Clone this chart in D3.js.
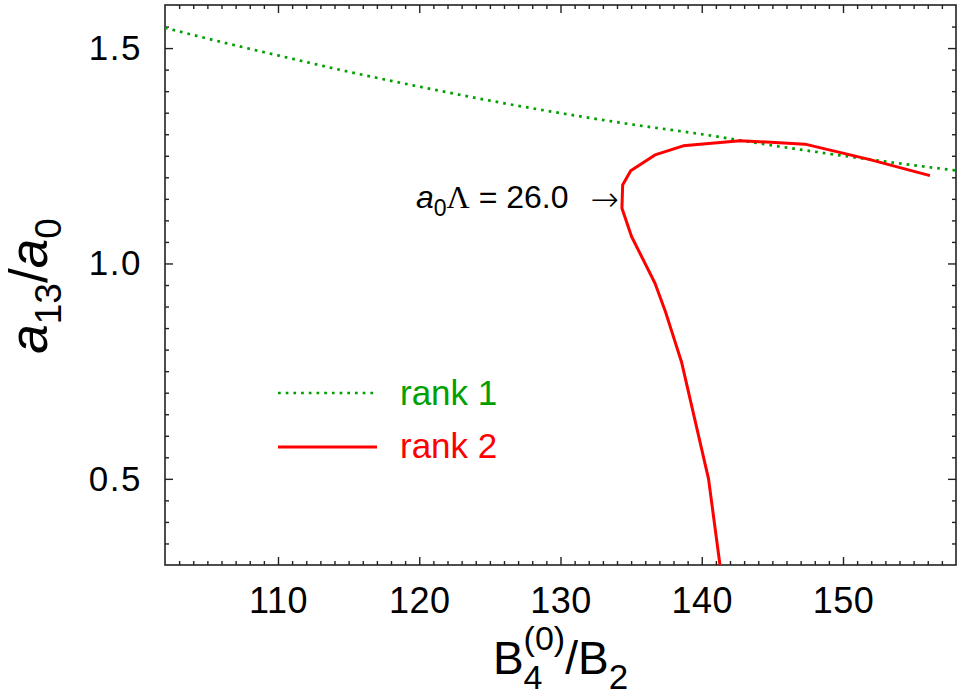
<!DOCTYPE html>
<html><head><meta charset="utf-8">
<script src="https://cdn.jsdelivr.net/npm/d3@7"></script>
<style>body{margin:0;background:#fff} svg{display:block}</style>
</head><body>
<svg id="c" width="963" height="698"></svg>
<script>
// ---- data ----
const rank1X = [102, 106, 110, 115, 120, 125, 130, 135, 140, 145, 150, 155, 158];
const rank1Y = [1.547, 1.514, 1.483, 1.445, 1.4105, 1.378, 1.349, 1.323, 1.300, 1.274, 1.250, 1.228, 1.216];
const rank2X = [156.16, 151.91, 147.31, 142.71, 138.69, 136.69, 134.97, 134.40, 134.35, 135.03, 136.69, 137.40, 138.58, 140.48, 141.29];
const rank2Y = [1.204, 1.241, 1.277, 1.285, 1.273, 1.252, 1.215, 1.182, 1.128, 1.0625, 0.954, 0.891, 0.770, 0.500, 0.300];
const xTicks = [110, 120, 130, 140, 150];
const yTicks = [0.5, 1.0, 1.5];
const xDomain = [102, 158];
const yDomain = [0.3, 1.6];
const legendLabels = ["rank 1", "rank 2"];
const annotationValue = "26.0";

// ---- layout ----
const L = 165, R = 956, T = 5, B = 565;
const FONT = "'Liberation Sans', Arial, Helvetica, sans-serif";
const GREEN = "#00a000", RED = "#ff0000", AX = "#222";

const svg = d3.select("#c");
const x = d3.scaleLinear().domain(xDomain).range([L, R]);
const y = d3.scaleLinear().domain(yDomain).range([B, T]);

svg.append("defs").append("clipPath").attr("id", "clip")
  .append("rect").attr("x", L).attr("y", T).attr("width", R - L).attr("height", B - T);

const xMinor = d3.range(xDomain[0] + 1, xDomain[1], 1).filter(v => !xTicks.includes(v));
const yMinor = d3.range(7, 32).map(i => i * 0.05).filter(v => !yTicks.some(t => Math.abs(t - v) < 1e-9) && v > yDomain[0] + 1e-9);

function styleAxis(g) {
  g.select(".domain").remove();
  g.selectAll(".tick line").attr("stroke", AX).attr("stroke-width", 1.4);
  g.selectAll("text").attr("font-family", FONT).attr("fill", "#000");
}

// bottom
svg.append("g").attr("transform", `translate(0,${B})`)
  .call(d3.axisBottom(x).tickValues(xTicks).tickSize(-8).tickPadding(22.5).tickFormat(d3.format("d")))
  .call(styleAxis).call(g => g.selectAll("text").attr("font-size", 36).attr("letter-spacing", 0.5));
svg.append("g").attr("transform", `translate(0,${B})`)
  .call(d3.axisBottom(x).tickValues(xMinor).tickSize(-4).tickFormat(""))
  .call(styleAxis);
// top
svg.append("g").attr("transform", `translate(0,${T})`)
  .call(d3.axisTop(x).tickValues(xTicks).tickSize(-8).tickFormat("")).call(styleAxis);
svg.append("g").attr("transform", `translate(0,${T})`)
  .call(d3.axisTop(x).tickValues(xMinor).tickSize(-4).tickFormat("")).call(styleAxis);
// left
svg.append("g").attr("transform", `translate(${L},0)`)
  .call(d3.axisLeft(y).tickValues(yTicks).tickSize(-8).tickPadding(23).tickFormat(d3.format(".1f")))
  .call(styleAxis).call(g => g.selectAll("text").attr("font-size", 35).attr("letter-spacing", 1.5));
svg.append("g").attr("transform", `translate(${L},0)`)
  .call(d3.axisLeft(y).tickValues(yMinor).tickSize(-4).tickFormat("")).call(styleAxis);
// right
svg.append("g").attr("transform", `translate(${R},0)`)
  .call(d3.axisRight(y).tickValues(yTicks).tickSize(-8).tickFormat("")).call(styleAxis);
svg.append("g").attr("transform", `translate(${R},0)`)
  .call(d3.axisRight(y).tickValues(yMinor).tickSize(-4).tickFormat("")).call(styleAxis);

// frame
svg.append("rect").attr("x", L).attr("y", T).attr("width", R - L).attr("height", B - T)
  .attr("fill", "none").attr("stroke", AX).attr("stroke-width", 1.6);

// ---- series ----
const r1 = rank1X.map((v, i) => [v, rank1Y[i]]);
const r2 = rank2X.map((v, i) => [v, rank2Y[i]]);
const plot = svg.append("g").attr("clip-path", "url(#clip)");
plot.append("path").datum(r1)
  .attr("d", d3.line().x(d => x(d[0])).y(d => y(d[1])).curve(d3.curveMonotoneX))
  .attr("fill", "none").attr("stroke", GREEN).attr("stroke-width", 2.7)
  .attr("stroke-dasharray", "2.7 5");
plot.append("path").datum(r2)
  .attr("d", d3.line().x(d => x(d[0])).y(d => y(d[1])))
  .attr("fill", "none").attr("stroke", RED).attr("stroke-width", 3).attr("stroke-linejoin", "round");

// ---- legend ----
const legY = [393, 447];
svg.append("line").attr("x1", 278).attr("x2", 377).attr("y1", legY[0]).attr("y2", legY[0])
  .attr("stroke", GREEN).attr("stroke-width", 2.7).attr("stroke-dasharray", "2.7 5");
svg.append("line").attr("x1", 278).attr("x2", 377).attr("y1", legY[1]).attr("y2", legY[1])
  .attr("stroke", RED).attr("stroke-width", 3);
svg.append("text").attr("x", 400).attr("y", legY[0] + 12).attr("font-family", FONT).attr("font-size", 35)
  .attr("fill", GREEN).text(legendLabels[0]);
svg.append("text").attr("x", 400).attr("y", legY[1] + 11).attr("font-family", FONT).attr("font-size", 35)
  .attr("fill", RED).text(legendLabels[1]);

// ---- annotation ----
const ann = svg.append("text").attr("x", 416).attr("y", 208).attr("font-family", FONT).attr("font-size", 32).attr("fill", "#000");
ann.append("tspan").attr("font-style", "italic").text("a");
ann.append("tspan").attr("font-size", 23).attr("dy", 8).text("0");
ann.append("tspan").attr("dy", -8).attr("font-family", "'Liberation Serif', 'Times New Roman', serif").text("Λ");
ann.append("tspan").text(" = " + annotationValue);
svg.append("text").attr("x", 619).attr("y", 211).attr("text-anchor", "end")
  .attr("font-family", "'DejaVu Sans', sans-serif").attr("font-weight", 300).attr("font-size", 34).text("→");

// ---- y label ----
const yl = svg.append("text").attr("transform", `translate(47,${(T + B) / 2 + 1}) rotate(-90)`)
  .attr("text-anchor", "middle").attr("font-family", FONT).attr("font-size", 53).attr("fill", "#000");
yl.append("tspan").attr("font-style", "italic").text("a");
yl.append("tspan").attr("font-size", 37).attr("dy", 14).text("13");
yl.append("tspan").attr("dy", -14).text("/");
yl.append("tspan").attr("font-style", "italic").text("a");
yl.append("tspan").attr("font-size", 37).attr("dy", 14).text("0");

// ---- x label (single text element, stacked sub/superscript) ----
function measure(txt, size) {
  const t = svg.append("text").attr("font-family", FONT).attr("font-size", size).text(txt);
  const w = t.node().getComputedTextLength();
  t.remove();
  return w;
}
const SUP = 34, SUB = 34;
const wB = measure("B", 46), wSup = measure("(0)", SUP), wSub = measure("4", SUB),
      wSl = measure("/B", 46), w2 = measure("2", 35);
const total = wB + Math.max(wSup, wSub) + wSl + w2;
const xl = svg.append("text").attr("x", (L + R) / 2 - total / 2).attr("y", 674)
  .attr("font-family", FONT).attr("font-size", 46).attr("fill", "#000");
xl.append("tspan").text("B");
xl.append("tspan").attr("font-size", SUP).attr("dy", -24).text("(0)");
xl.append("tspan").attr("font-size", SUB).attr("dx", -wSup).attr("dy", 39).text("4");
xl.append("tspan").attr("dx", Math.max(wSup, wSub) - wSub).attr("dy", -15).text("/B");
xl.append("tspan").attr("font-size", 35).attr("dy", 15).text("2");
</script>
</body></html>
